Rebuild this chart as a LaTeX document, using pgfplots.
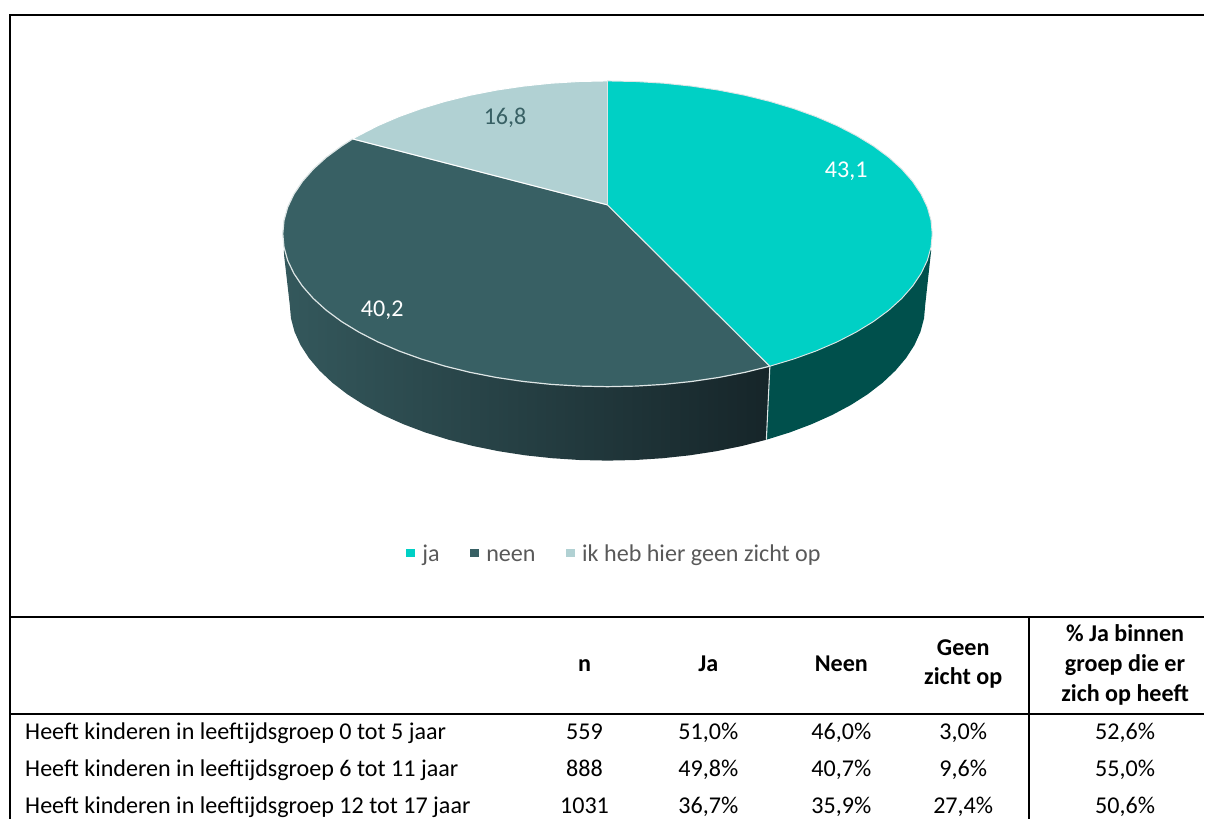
\documentclass[border=0pt]{standalone}
\usepackage{pgfplots}
\pgfplotsset{compat=1.18}
\usepackage{fontspec}
\setmainfont{Carlito}
\definecolor{ja}{RGB}{0,208,197}
\definecolor{neen}{RGB}{56,96,100}
\definecolor{ik}{RGB}{177,209,211}
\definecolor{jawall}{RGB}{0,80,76}
\definecolor{wallL}{RGB}{52,88,92}
\definecolor{wallR}{RGB}{22,37,41}
\definecolor{edge}{RGB}{222,230,230}
\definecolor{legtxt}{RGB}{89,89,89}
\newcommand{\tf}{\fontsize{18.08}{22}\selectfont}
\begin{document}
\begin{tikzpicture}
\begin{axis}[
  scale only axis, width=903.75pt, height=615pt,
  xmin=0, xmax=1205, ymin=0, ymax=820, y dir=reverse,
  axis lines=none, clip=false,
  legend style={at={(axis cs:614,557)}, anchor=center, draw=none, fill=none,
    legend columns=-1, font=\tf\color{legtxt},
    nodes={text height=0.72em, text depth=0.22em, inner sep=0pt},
    /tikz/every odd column/.append style={column sep=6pt},
    /tikz/every even column/.append style={column sep=23pt},
    inner sep=0pt, outer sep=0pt},
]
\path (axis cs:0,0) rectangle (axis cs:1205,820);
% side walls
\addplot[forget plot, draw=none, fill=jawall] coordinates {
 (770,300) (932,250) (926,305) (924.8,318.6) (921.2,332.1) (915.2,345.4) (906.8,358.4) (896.2,370.9) (883.4,383) (868.5,394.5) (851.6,405.3) (832.9,415.3) (812.4,424.5) (790.4,432.8) (767,440.1) (770.5,366.5)
} --cycle;
\addplot[forget plot, draw=none, left color=wallL, right color=wallR] coordinates {
 (770,300) (284,250) (284.5,257) (290,305) (291.2,318.6) (294.8,332.1) (300.8,345.4) (309.2,358.4) (319.8,370.9) (332.6,383) (347.5,394.5) (364.4,405.3) (383.1,415.3) (403.6,424.5) (425.6,432.8) (449,440.1) (473.6,446.4) (499.2,451.6) (525.7,455.7) (552.8,458.6) (580.3,460.4) (608,461) (635.7,460.4) (663.2,458.6) (690.3,455.7) (716.8,451.6) (742.4,446.4) (767,440.1) (770.5,366.5)
} --cycle;
\addplot[forget plot, edge, line width=0.8pt] coordinates {(770.5,366.5) (767,440.1)};
% top face: neen, ik, ja
\addplot[draw=edge, line width=0.9pt, fill=neen, line join=round, forget plot] coordinates {
 (608,205) (770.5,366.5) (745.3,372.7) (719.2,377.8) (692.1,381.8) (664.4,384.7) (636.3,386.4) (608,387) (579.7,386.4) (551.6,384.7) (523.9,381.8) (496.8,377.8) (470.7,372.7) (445.5,366.5) (421.6,359.3) (399.1,351.2) (378.2,342.2) (359,332.3) (341.8,321.8) (326.5,310.5) (313.5,298.7) (302.6,286.3) (294.1,273.6) (287.9,260.6) (284.2,247.3) (283,234) (284.2,220.7) (287.9,207.4) (294.1,194.4) (302.6,181.7) (313.5,169.3) (326.5,157.5) (341.8,146.2) (353,139)
} --cycle;
\addplot[draw=white, line width=0.7pt, fill=ik, line join=round, forget plot] coordinates {
 (608,205) (353,139) (359,135.7) (378.2,125.8) (399.1,116.8) (421.6,108.7) (445.5,101.5) (470.7,95.3) (496.8,90.2) (523.9,86.2) (551.6,83.3) (579.7,81.6) (608,81)
} --cycle;
\addplot[draw=edge, line width=0.7pt, fill=ja, line join=round, forget plot] coordinates {
 (608,205) (608,81) (636.3,81.6) (664.4,83.3) (692.1,86.2) (719.2,90.2) (745.3,95.3) (770.5,101.5) (794.4,108.7) (816.9,116.8) (837.8,125.8) (857,135.7) (874.2,146.2) (889.5,157.5) (902.5,169.3) (913.4,181.7) (921.9,194.4) (928.1,207.4) (931.8,220.7) (933,234) (931.8,247.3) (928.1,260.6) (921.9,273.6) (913.4,286.3) (902.5,298.7) (889.5,310.5) (874.2,321.8) (857,332.3) (837.8,342.2) (816.9,351.2) (794.4,359.3) (770.5,366.5)
} --cycle;
% legend
\addlegendimage{legend image code/.code={\fill[ja] (0pt,1pt) rectangle (5.6pt,6.6pt);}}
\addlegendentry{ja}
\addlegendimage{legend image code/.code={\fill[neen] (0pt,1pt) rectangle (5.6pt,6.6pt);}}
\addlegendentry{neen}
\addlegendimage{legend image code/.code={\fill[ik] (0pt,1pt) rectangle (5.6pt,6.6pt);}}
\addlegendentry{ik heb hier geen zicht op}
% data labels
\node[white, font=\tf] at (axis cs:847,171.5) {43,1};
\node[white, font=\tf] at (axis cs:382.5,310.5) {40,2};
\node[neen, font=\tf] at (axis cs:505.5,117.5) {16,8};
% frame and table rules
\draw[black, line width=1pt] (axis cs:10,15) -- (axis cs:1197,15);
\draw[black, line width=1.5pt] (axis cs:1197,15.3) -- (axis cs:1205,15.3);
\draw[black, line width=1.5pt] (axis cs:10,14.5) -- (axis cs:10,820);
\draw[black, line width=1.5pt] (axis cs:10,618) -- (axis cs:1205,618);
\draw[black, line width=1.5pt] (axis cs:10,715) -- (axis cs:1205,715);
\draw[black, line width=1.5pt] (axis cs:1030,618) -- (axis cs:1030,820);
% table header
\begin{scope}[every node/.style={font=\tf\bfseries, anchor=base, black, inner sep=0pt}]
\node at (axis cs:585,672) {n};
\node at (axis cs:709,672) {Ja};
\node at (axis cs:842,672) {Neen};
\node at (axis cs:964,656) {Geen};
\node at (axis cs:964,685) {zicht op};
\node at (axis cs:1126,642) {\% Ja binnen};
\node at (axis cs:1126,672) {groep die er};
\node at (axis cs:1126,702) {zich op heeft};
\end{scope}
% table body
\begin{scope}[every node/.style={font=\tf, anchor=base, black, inner sep=0pt}]
\node[anchor=base west] at (axis cs:25,740) {Heeft kinderen in leeftijdsgroep 0 tot 5 jaar};
\node at (axis cs:585,740) {559};
\node at (axis cs:709,740) {51,0\%};
\node at (axis cs:842,740) {46,0\%};
\node at (axis cs:964,740) {3,0\%};
\node at (axis cs:1126,740) {52,6\%};
\node[anchor=base west] at (axis cs:25,777) {Heeft kinderen in leeftijdsgroep 6 tot 11 jaar};
\node at (axis cs:585,777) {888};
\node at (axis cs:709,777) {49,8\%};
\node at (axis cs:842,777) {40,7\%};
\node at (axis cs:964,777) {9,6\%};
\node at (axis cs:1126,777) {55,0\%};
\node[anchor=base west] at (axis cs:25,814.5) {Heeft kinderen in leeftijdsgroep 12 tot 17 jaar};
\node at (axis cs:585,814.5) {1031};
\node at (axis cs:709,814.5) {36,7\%};
\node at (axis cs:842,814.5) {35,9\%};
\node at (axis cs:964,814.5) {27,4\%};
\node at (axis cs:1126,814.5) {50,6\%};
\end{scope}
\end{axis}
\end{tikzpicture}
\end{document}
